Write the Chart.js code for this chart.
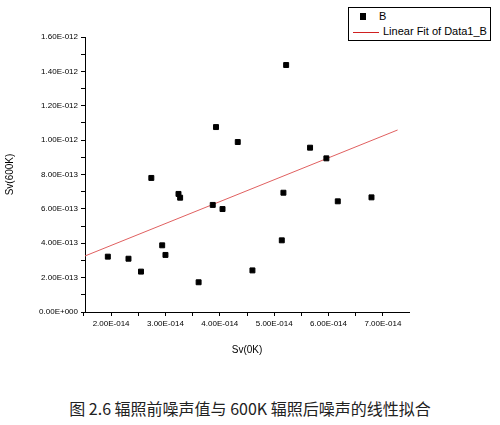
<!DOCTYPE html>
<html>
<head>
<meta charset="utf-8">
<script src="https://cdn.jsdelivr.net/npm/chart.js@4.4.0/dist/chart.umd.min.js"></script>
<style>
  body { margin: 0; background: #fff; width: 500px; height: 425px; position: relative; overflow: hidden; }
  #wrap { position: absolute; left: 0; top: 0; width: 500px; height: 360px; }
  #legend { position: absolute; left: 348px; top: 7px; width: 141px; height: 32px; border: 1px solid #000;
            font: 11px "Liberation Sans", Arial, sans-serif; background: #fff; }
  #legend div { position: absolute; left: 0; white-space: nowrap; }
  #caption { position: absolute; left: 0; width: 500px; top: 396px; text-align: center;
             font: 16px "Noto Sans CJK SC", serif; color: #222; }
</style>
</head>
<body>
<div id="wrap"><canvas id="c" width="500" height="360"></canvas></div>
<div id="legend">
  <div style="top:2px"><span style="display:inline-block;width:6px;height:7px;background:#000;margin:0 13px 0 11px"></span>B</div>
  <div style="top:17px"><span style="display:inline-block;width:26px;height:1px;background:#d02020;vertical-align:middle;margin:0 4px 0 4px"></span>Linear Fit of Data1_B</div>
</div>
<div id="caption">图 2.6 辐照前噪声值与 600K 辐照后噪声的线性拟合</div>
<script>
// Sv(0K) in units of 1E-14, Sv(600K) in units of 1E-13
const sv0 = [1.94, 2.32, 2.55, 2.74, 2.94, 3.00, 3.24, 3.27, 3.61, 3.87, 3.93, 4.05, 4.33, 4.60, 5.14, 5.17, 5.22, 5.66, 5.96, 6.17, 6.79];
const sv600 = [3.22, 3.10, 2.35, 7.80, 3.88, 3.32, 6.87, 6.65, 1.73, 6.23, 10.76, 5.99, 9.89, 2.42, 4.17, 6.94, 14.37, 9.56, 8.94, 6.44, 6.67];
const fitX = [1.52, 7.27];
const fitY = [3.26, 10.59];
const xTicks = [1.5, 2, 2.5, 3, 3.5, 4, 4.5, 5, 5.5, 6, 6.5, 7];
const yTicks = [0, 1, 2, 3, 4, 5, 6, 7, 8, 9, 10, 11, 12, 13, 14, 15, 16];

function fmt(v) {
  if (Math.abs(v) < 1e-20) return '0.00E+000';
  const [m, e] = v.toExponential(2).split('e');
  const n = parseInt(e, 10);
  return m + 'E' + (n < 0 ? '-' : '+') + String(Math.abs(n)).padStart(3, '0');
}

const font = { family: '"Liberation Sans", Arial, sans-serif', size: 8 };

new Chart(document.getElementById('c'), {
  type: 'scatter',
  data: {
    datasets: [{
      data: sv0.map((x, i) => ({ x: x * 1e-14, y: sv600[i] * 1e-13 })),
      backgroundColor: '#000', borderColor: '#000',
      pointStyle: 'rect', pointRadius: 3.5
    }, {
      type: 'line',
      data: fitX.map((x, i) => ({ x: x * 1e-14, y: fitY[i] * 1e-13 })),
      borderColor: '#e06060', borderWidth: 1, pointRadius: 0
    }]
  },
  options: {
    responsive: false, animation: false,
    layout: { padding: { left: 0, right: 91, top: 37, bottom: 0 } },
    plugins: { legend: { display: false }, tooltip: { enabled: false } },
    scales: {
      x: {
        type: 'linear', min: 1.52e-14, max: 7.48e-14,
        afterBuildTicks: s => { s.ticks = xTicks.map(v => ({ value: v * 1e-14 })); },
        afterFit: s => { s.height = 48; },
        ticks: { color: '#000', font, maxRotation: 0, autoSkip: false,
                 callback: v => (Math.round(v * 2e14) % 2 === 0 ? fmt(v) : '') },
        grid: { drawOnChartArea: false, tickLength: 4, color: '#000' },
        border: { color: '#000', width: 1 },
        title: { display: true, text: 'Sv(0K)', color: '#000', font: { family: font.family, size: 10 }, padding: { top: 6 } }
      },
      y: {
        min: 0, max: 1.6e-12,
        afterBuildTicks: s => { s.ticks = yTicks.map(v => ({ value: v * 1e-13 })); },
        afterFit: s => { s.width = 85; },
        ticks: { color: '#000', font, autoSkip: false,
                 callback: v => (Math.round(v * 1e13) % 2 === 0 ? fmt(v) : '') },
        grid: { drawOnChartArea: false, tickLength: 4, color: '#000' },
        border: { color: '#000', width: 1 },
        title: { display: true, text: 'Sv(600K)', color: '#000', font: { family: font.family, size: 10 } }
      }
    }
  }
});
</script>
</body>
</html>
